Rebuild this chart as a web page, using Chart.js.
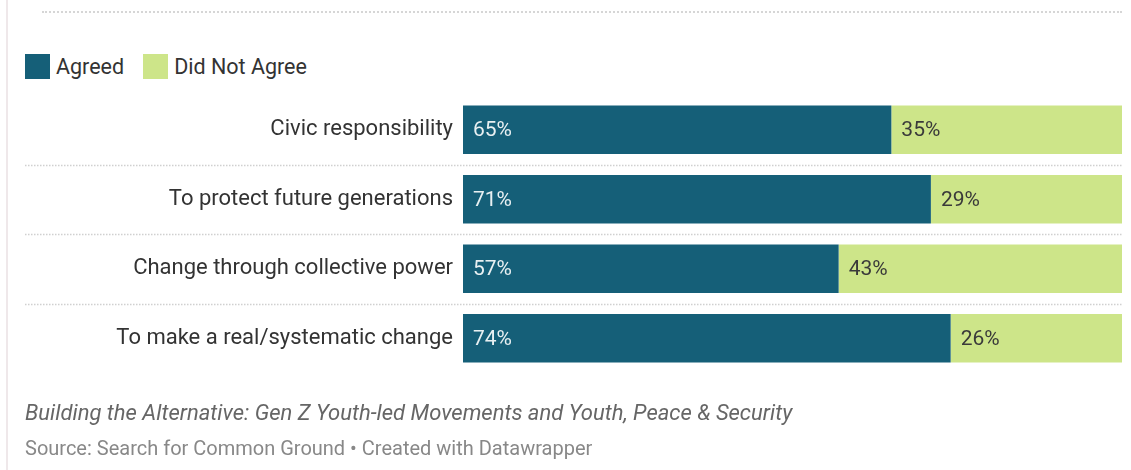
<!DOCTYPE html>
<html>
<head>
<meta charset="utf-8">
<script src="https://cdn.jsdelivr.net/npm/chart.js@4/dist/chart.umd.min.js"></script>
<style>
  html, body { margin: 0; padding: 0; background: #fff; }
  body { width: 1131px; height: 470px; position: relative; overflow: hidden; font-family: Roboto, "Noto Sans", sans-serif; }
  .edge { position: absolute; left: 6px; top: 0; width: 2px; height: 470px; background: #efe8ea; }
  .topline { position: absolute; left: 42px; top: 11px; width: 1080px; border-top: 2px dotted #d6d6d6; }
  .legend { position: absolute; left: 25px; top: 54px; display: flex; align-items: center; font-size: 21.5px; color: #333; }
  .legend span.sw { display: inline-block; width: 25px; height: 25px; margin-right: 6px; }
  .legend .item { display: flex; align-items: center; margin-right: 19px; }
  #chart { position: absolute; left: 0; top: 0; }
  .title { position: absolute; left: 25px; top: 400px; font-size: 22px; font-style: italic; color: #666; }
  .source { position: absolute; left: 25px; top: 436px; font-size: 20px; color: #888; }
</style>
</head>
<body>
<div class="edge"></div>
<div class="topline"></div>
<div class="legend" id="legend"></div>
<canvas id="chart" width="1131" height="470"></canvas>
<div class="title">Building the Alternative: Gen Z Youth-led Movements and Youth, Peace &amp; Security</div>
<div class="source">Source: Search for Common Ground • Created with Datawrapper</div>
<script>
const categories = [
  'Civic responsibility',
  'To protect future generations',
  'Change through collective power',
  'To make a real/systematic change',
]
const agreed = [65, 71, 57, 74]
const didNotAgree = [35, 29, 43, 26]
const seriesNames = ['Agreed', 'Did Not Agree']
const seriesColors = ['#155f78', '#cde589']
const labelColors = ['#e8f0f2', '#3a3a3a']

// legend swatches
const legendEl = document.getElementById('legend')
seriesNames.forEach((name, i) => {
  const item = document.createElement('div')
  item.className = 'item'
  item.innerHTML = `<span class="sw" style="background:${seriesColors[i]}"></span>${name}`
  legendEl.appendChild(item)
})

// dotted separators between rows, running under the labels too
const separators = {
  id: 'separators',
  beforeDatasetsDraw(chart) {
    const { ctx, scales: { y }, chartArea } = chart
    ctx.save()
    ctx.strokeStyle = '#d0d0d0'
    ctx.lineWidth = 1.5
    ctx.setLineDash([1.5, 1.5])
    for (let i = 0; i < categories.length - 1; i++) {
      const py = Math.round((y.getPixelForValue(i) + y.getPixelForValue(i + 1)) / 2) + 0.5
      ctx.beginPath()
      ctx.moveTo(25, py)
      ctx.lineTo(chartArea.right, py)
      ctx.stroke()
    }
    ctx.restore()
  },
}

// percentage labels at the start of each segment
const valueLabels = {
  id: 'valueLabels',
  afterDatasetsDraw(chart) {
    const { ctx } = chart
    ctx.save()
    ctx.font = '21px Roboto, "Noto Sans", sans-serif'
    ctx.textBaseline = 'middle'
    ctx.textAlign = 'left'
    chart.data.datasets.forEach((ds, di) => {
      const meta = chart.getDatasetMeta(di)
      ctx.fillStyle = labelColors[di]
      meta.data.forEach((bar, i) => {
        const left = Math.min(bar.x, bar.base)
        ctx.fillText(`${ds.data[i]}%`, left + 10, bar.y + 1)
      })
    })
    ctx.restore()
  },
}

new Chart(document.getElementById('chart'), {
  type: 'bar',
  data: {
    labels: categories,
    datasets: [
      { label: seriesNames[0], data: agreed, backgroundColor: seriesColors[0] },
      { label: seriesNames[1], data: didNotAgree, backgroundColor: seriesColors[1] },
    ],
  },
  options: {
    indexAxis: 'y',
    responsive: false,
    animation: false,
    devicePixelRatio: 1,
    categoryPercentage: 0.7,
    barPercentage: 1,
    layout: { padding: { top: 95, bottom: 97, right: 9, left: 0 } },
    plugins: {
      legend: { display: false },
      tooltip: { enabled: false },
    },
    scales: {
      x: {
        stacked: true,
        min: 0,
        max: 100,
        display: false,
      },
      y: {
        stacked: true,
        border: { display: false },
        grid: { display: false, drawTicks: false },
        ticks: {
          padding: 10,
          color: '#333',
          font: { family: 'Roboto, "Noto Sans", sans-serif', size: 22 },
        },
        afterFit(scale) { scale.width = 463 },
      },
    },
  },
  plugins: [separators, valueLabels],
})
</script>
</body>
</html>
